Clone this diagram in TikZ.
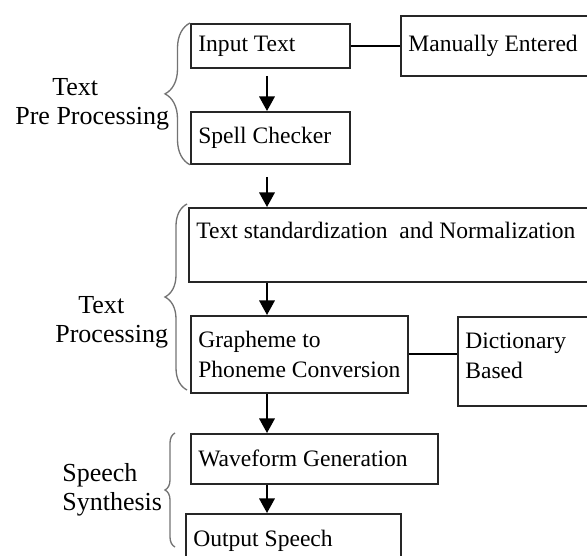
\documentclass[tikz,border=0pt]{standalone}
\usepackage{fontspec}
\setmainfont{Liberation Serif}
\usepackage{tikz}
\usetikzlibrary{arrows.meta,positioning,decorations.pathreplacing}
\tikzset{
  >={Triangle[length=2.9mm,width=3.1mm]},
  box/.style={draw=black!85,line width=1pt,inner xsep=1.5mm,inner ysep=0pt,align=flush left,
    anchor=north west,font=\fontsize{13.4}{16.8}\selectfont},
  flow/.style={->,line width=1pt},
  link/.style={line width=1pt},
  curly/.style={decorate,decoration={brace,amplitude=#1},draw=black!55,line width=.75pt},
  stage/.style={inner sep=0pt,align=flush left,anchor=west,font=\fontsize{14.8}{16.5}\selectfont},
}

\begin{document}
\begin{tikzpicture}[x=1cm,y=1cm]
  \useasboundingbox (0,0) rectangle (11.74,-11.12);
  \clip (0,0) rectangle (11.74,-11.12);

  % pipeline boxes
  \node[box,text width=2.88cm,minimum height=.88cm] (in) at (3.8,-.46) {Input Text};
  \node[box,text width=3.9cm,minimum height=1.2cm] (manual) at (8.0,-.30) {Manually Entered};
  \node[box,text width=2.88cm,minimum height=1.04cm] (spell) at (3.8,-2.22) {Spell Checker};
  \node[box,text width=8.14cm,minimum height=1.48cm] (norm) at (3.76,-4.14)
    {Text standardization\ \ and Normalization\\~};
  \node[box,text width=4.04cm,minimum height=1.54cm] (g2p) at (3.8,-6.30)
    {Grapheme to\\\mbox{Phoneme Conversion}};
  \node[box,text width=2.76cm,minimum height=1.78cm,text depth=.82cm] (dict) at (9.14,-6.32)
    {Dictionary\\Based};
  \node[box,text width=4.64cm,minimum height=1.0cm] (wave) at (3.8,-8.66) {Waveform Generation};
  \node[box,text width=4.0cm,minimum height=1.06cm] (out) at (3.7,-10.26) {Output Speech};

  % arrows run down one common line
  \coordinate (axis) at (5.34,0);
  \draw[flow] ([yshift=-.14cm]in.south -| axis) -- (spell.north -| axis);
  \draw[flow] ([yshift=-.24cm]spell.south -| axis) -- (norm.north -| axis);
  \draw[flow] (norm.south -| axis) -- (g2p.north -| axis);
  \draw[flow] (g2p.south -| axis) -- (wave.north -| axis);
  \draw[flow] (wave.south -| axis) -- (out.north -| axis);

  \draw[link] (in.east) -- (manual.west |- in.east);
  \draw[link] (g2p.east) -- (dict.west |- g2p.east);

  % stage braces and their names
  \draw[curly=.5cm] (spell.south west) -- (in.north west);
  \draw[curly=.44cm] (3.74,-7.80) -- (3.74,-4.08);
  \draw[curly=.2cm] (3.5,-10.94) -- (3.5,-8.66);

  \node[stage] (pre) at (.30,-2.085) {\hspace*{.74cm}Text\\Pre Processing};
  \node[stage] (proc) at (1.10,-6.445) {\hspace*{.46cm}Text\\Processing};
  \node[stage] (synth) at (1.24,-9.805) {Speech\\Synthesis};
\end{tikzpicture}
\end{document}
